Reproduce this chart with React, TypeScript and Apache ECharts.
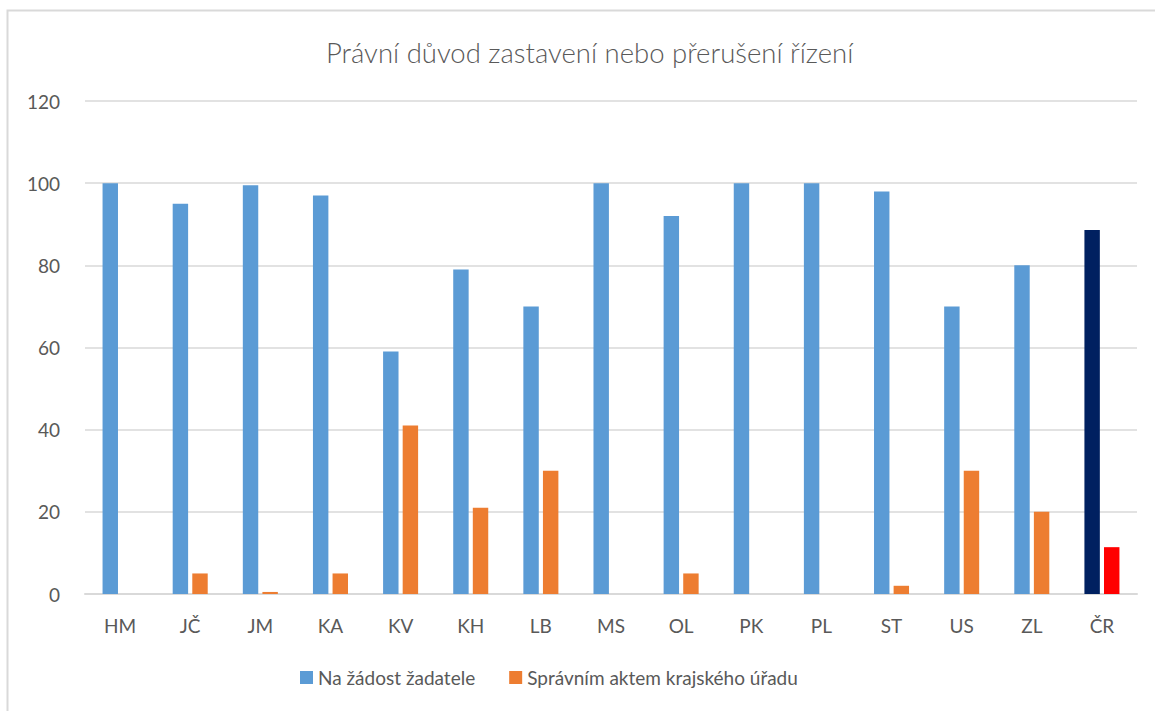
import React, { useEffect, useRef } from "react";
import * as echarts from "echarts";

const categories = ["HM", "JČ", "JM", "KA", "KV", "KH", "LB", "MS", "OL", "PK", "PL", "ST", "US", "ZL", "ČR"];
const naZadost = [100, 95, 99.5, 97, 59, 79, 70, 100, 92, 100, 100, 98, 70, 80, 88.6];
const spravnimAktem = [0, 5, 0.5, 5, 41, 21, 30, 0, 5, 0, 0, 2, 30, 20, 11.4];
const yTicks = { min: 0, max: 120, interval: 20 };
const seriesNames = ["Na žádost žadatele", "Správním aktem krajského úřadu"];
const titleText = "Právní důvod zastavení nebo přerušení řízení";

const BLUE = "#5B9BD5";
const ORANGE = "#ED7D31";
const NAVY = "#002060";
const RED = "#FF0000";
const TEXT = "#595959";
const FONT = "Lato, 'Open Sans', sans-serif";

export default function App() {
  const ref = useRef<HTMLDivElement>(null);
  useEffect(() => {
    if (!ref.current) return;
    const chart = echarts.init(ref.current, null, { renderer: "svg" });
    const last = categories.length - 1;
    chart.setOption({
      animation: false,
      backgroundColor: "#fff",
      textStyle: { fontFamily: FONT },
      graphic: [
        {
          type: "rect",
          shape: { x: 7.5, y: 10.5, width: 1200, height: 760 },
          style: { fill: "none", stroke: "#D9D9D9", lineWidth: 2 },
          silent: true,
        },
      ],
      title: {
        text: titleText,
        left: 321,
        top: 33,
        textStyle: { fontFamily: FONT, fontSize: 27.5, fontWeight: 300, color: TEXT },
      },
      legend: {
        bottom: 19,
        left: 295,
        itemWidth: 13,
        itemHeight: 13,
        itemGap: 34,
        icon: "rect",
        textStyle: { fontFamily: FONT, fontSize: 19, color: TEXT },
        data: seriesNames,
      },
      grid: { left: 85, right: 18, top: 101, bottom: 117, containLabel: false },
      xAxis: {
        type: "category",
        data: categories,
        axisLine: { lineStyle: { color: "#D9D9D9", width: 2 } },
        axisTick: { show: false },
        axisLabel: { fontFamily: FONT, fontSize: 19, color: TEXT, margin: 22 },
      },
      yAxis: {
        type: "value",
        min: yTicks.min,
        max: yTicks.max,
        interval: yTicks.interval,
        axisLine: { show: false },
        axisTick: { show: false },
        splitLine: { lineStyle: { color: "#D9D9D9", width: 1.5 } },
        axisLabel: { fontFamily: FONT, fontSize: 19, color: TEXT, margin: 25 },
      },
      series: [
        {
          name: seriesNames[0],
          type: "bar",
          barWidth: "22%",
          barGap: "27%",
          itemStyle: { color: BLUE },
          data: naZadost.map((v, i) =>
            i === last ? { value: v, itemStyle: { color: NAVY } } : v
          ),
        },
        {
          name: seriesNames[1],
          type: "bar",
          barWidth: "22%",
          barGap: "27%",
          itemStyle: { color: ORANGE },
          data: spravnimAktem.map((v, i) =>
            i === last ? { value: v, itemStyle: { color: RED } } : v
          ),
        },
      ],
    });
    return () => chart.dispose();
  }, []);
  return (
    <div
      ref={ref}
      style={{ position: "absolute", left: 0, top: 0, width: 1155, height: 711 }}
    />
  );
}
